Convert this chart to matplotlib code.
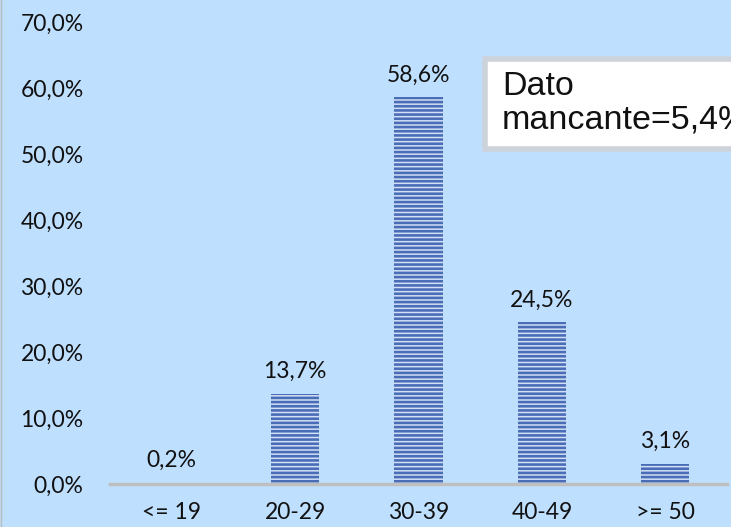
import matplotlib.pyplot as plt
from matplotlib.patches import Rectangle

plt.rcParams['font.family'] = ['Lato', 'DejaVu Sans']
plt.rcParams['hatch.linewidth'] = 1.9

categories = ['<= 19', '20-29', '30-39', '40-49', '>= 50']
values = [0.2, 13.7, 58.6, 24.5, 3.1]
yticks = [0, 10, 20, 30, 40, 50, 60, 70]
missing_note = 'Dato\nmancante=5,4%'

bg = '#BFDFFF'
fig = plt.figure(figsize=(7.31, 5.27), dpi=100, facecolor=bg)
ax = fig.add_axes([0.1505, 0.0816, 0.844, 0.8764])
ax.set_facecolor(bg)

x = list(range(len(categories)))
bars = ax.bar(x, values, width=0.39, color='#D3E0F5', edgecolor='#4A6DB8',
              linewidth=0, hatch='----', zorder=2)

for b, v in zip(bars, values):
    ax.annotate(f'{v:.1f}'.replace('.', ',') + '%',
                (b.get_x() + b.get_width() / 2, v),
                xytext=(0, 16), textcoords='offset points',
                ha='center', va='center', fontsize=16.5, color='#111111')

ax.set_xlim(-0.5, 4.5)
ax.set_ylim(0, 70)
ax.set_xticks(x)
ax.set_xticklabels(categories)
ax.set_yticks(yticks)
ax.set_yticklabels([f'{t:.1f}'.replace('.', ',') + '%' for t in yticks])
ax.tick_params(axis='both', length=0, labelsize=16.5, colors='#111111')
ax.tick_params(axis='y', pad=19)
ax.tick_params(axis='x', pad=13)

for s in ['top', 'right', 'left']:
    ax.spines[s].set_visible(False)
ax.spines['bottom'].set_color('#BFBFBF')
ax.spines['bottom'].set_linewidth(2.5)
ax.spines['bottom'].set_zorder(3)

# note box (runs off the right edge like the original)
W, H = 731, 527
box = Rectangle((485 / W, 1 - 149 / H), 260 / W, 90 / H, transform=fig.transFigure,
                facecolor='white', edgecolor='#CDD3DA', linewidth=4, zorder=5)
fig.add_artist(box)
fig.text(502 / W, 1 - 103 / H, missing_note, transform=fig.transFigure,
         fontsize=24.5, family=['Liberation Sans', 'DejaVu Sans'],
         ha='left', va='center', linespacing=1.12, color='#111111', zorder=6)

fig.add_artist(plt.Line2D([0.5 / W, 0.5 / W], [0, 1], transform=fig.transFigure,
                          color='#BBBBBB', linewidth=1))

plt.savefig('out.png', dpi=100, facecolor=bg)
